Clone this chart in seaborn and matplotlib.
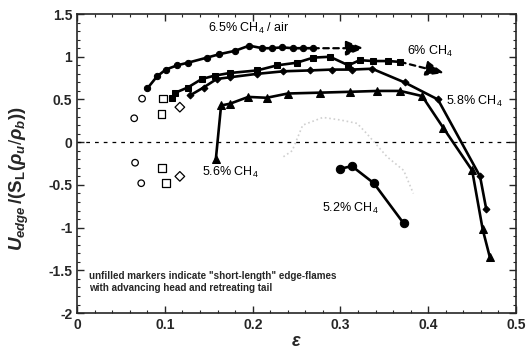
import matplotlib
matplotlib.use("Agg")
import matplotlib.pyplot as plt
import numpy as np
import seaborn as sns

# data
eps_65 = [0.080, 0.091, 0.101, 0.114, 0.126, 0.148, 0.162, 0.180, 0.196, 0.211, 0.222, 0.233, 0.246, 0.257, 0.269]
u_65 = [0.63, 0.77, 0.85, 0.90, 0.93, 0.99, 1.03, 1.07, 1.13, 1.10, 1.10, 1.11, 1.10, 1.10, 1.10]

eps_60 = [0.108, 0.112, 0.126, 0.142, 0.157, 0.174, 0.205, 0.228, 0.250, 0.269, 0.288, 0.309, 0.322, 0.337, 0.354, 0.368]
u_60 = [0.52, 0.58, 0.64, 0.74, 0.78, 0.81, 0.84, 0.90, 0.93, 0.99, 1.00, 0.90, 0.96, 0.95, 0.95, 0.94]

eps_58 = [0.129, 0.144, 0.159, 0.174, 0.205, 0.235, 0.265, 0.290, 0.313, 0.336, 0.373, 0.411, 0.459, 0.466]
u_58 = [0.55, 0.64, 0.74, 0.76, 0.80, 0.83, 0.84, 0.85, 0.85, 0.86, 0.70, 0.50, -0.40, -0.78]

eps_56 = [0.158, 0.164, 0.174, 0.195, 0.216, 0.240, 0.277, 0.311, 0.342, 0.368, 0.393, 0.417, 0.450, 0.462, 0.470]
u_56 = [-0.20, 0.43, 0.45, 0.53, 0.52, 0.57, 0.58, 0.59, 0.60, 0.60, 0.54, 0.17, -0.33, -1.02, -1.34]

eps_52 = [0.300, 0.313, 0.338, 0.372]
u_52 = [-0.31, -0.28, -0.48, -0.95]

# unfilled "short-length" edge-flame points
open_circ_x = [0.074, 0.065, 0.066, 0.073]
open_circ_y = [0.51, 0.28, -0.24, -0.48]
open_sq_x = [0.098, 0.096, 0.097, 0.101]
open_sq_y = [0.51, 0.33, -0.30, -0.48]
open_dia_x = [0.117, 0.117]
open_dia_y = [0.41, -0.40]

# faint grey dotted trace
grey_x = [0.235, 0.245, 0.257, 0.280, 0.300, 0.319, 0.330, 0.353, 0.372, 0.383]
grey_y = [-0.17, -0.10, 0.20, 0.29, 0.26, 0.22, 0.10, -0.17, -0.33, -0.60]

sns.set_style("ticks")
plt.rcParams["font.family"] = ["Liberation Sans", "DejaVu Sans"]
plt.rcParams["mathtext.fontset"] = "custom"
plt.rcParams["mathtext.rm"] = "Liberation Sans"
plt.rcParams["mathtext.it"] = "Liberation Sans:italic:bold"
plt.rcParams["mathtext.bf"] = "Liberation Sans:bold"

fig = plt.figure(figsize=(5.32, 3.51), dpi=100)
ax = fig.add_axes([0.145, 0.108, 0.825, 0.852])

ax.axhline(0, color="k", linestyle=(0, (3, 4)), linewidth=0.9)

sns.lineplot(x=grey_x, y=grey_y, ax=ax, color="#d0d0d0", linestyle=":", linewidth=1.2,
             sort=False, estimator=None)

line_kw = dict(ax=ax, color="k", linewidth=1.9, sort=False, estimator=None,
               markeredgecolor="k")
sns.lineplot(x=eps_65, y=u_65, marker="o", markersize=4.5, **line_kw)
sns.lineplot(x=eps_60, y=u_60, marker="s", markersize=4.8, **line_kw)
sns.lineplot(x=eps_58, y=u_58, marker="D", markersize=3.5, **line_kw)
sns.lineplot(x=eps_56, y=u_56, marker="^", markersize=5.5, **line_kw)
sns.lineplot(x=eps_52, y=u_52, marker="o", markersize=6, **line_kw)

sc_kw = dict(ax=ax, facecolor="none", edgecolor="k", linewidth=0.9, legend=False)
sns.scatterplot(x=open_circ_x, y=open_circ_y, marker="o", s=22, **sc_kw)
sns.scatterplot(x=open_sq_x, y=open_sq_y, marker="s", s=30, **sc_kw)
sns.scatterplot(x=open_dia_x, y=open_dia_y, marker="D", s=24, **sc_kw)

# dashed continuation arrows
arrow_kw = dict(arrowstyle="-|>,head_length=1.1,head_width=0.45", color="k",
                linestyle=(0, (2.5, 2)), linewidth=1.6, shrinkA=0, shrinkB=0)
ax.annotate("", xy=(0.327, 1.10), xytext=(eps_65[-1], u_65[-1]), arrowprops=arrow_kw)
ax.annotate("", xy=(0.418, 0.81), xytext=(eps_60[-1], u_60[-1]), arrowprops=arrow_kw)

txt = dict(fontsize=9, color="k")
ax.text(0.149, 1.33, "6.5% CH$_4$ / air", va="center", **txt)
ax.text(0.376, 1.06, "6% CH$_4$", va="center", **txt)
ax.text(0.420, 0.48, "5.8% CH$_4$", va="center", **txt)
ax.text(0.142, -0.35, "5.6% CH$_4$", va="center", **txt)
ax.text(0.279, -0.78, "5.2% CH$_4$", va="center", **txt)
ax.text(0.013, -1.64,
        "unfilled markers indicate \"short-length\" edge-flames\nwith advancing head and retreating tail",
        fontsize=7.1, fontweight="bold", va="center", linespacing=1.25)

ax.set_xlim(0, 0.5)
ax.set_ylim(-2, 1.5)
ax.set_xticks([0, 0.1, 0.2, 0.3, 0.4, 0.5])
ax.set_xticklabels(["0", "0.1", "0.2", "0.3", "0.4", "0.5"])
ax.set_yticks([-2, -1.5, -1, -0.5, 0, 0.5, 1, 1.5])
ax.set_yticklabels(["-2", "-1.5", "-1", "-0.5", "0", "0.5", "1", "1.5"])
ax.set_xticks(np.arange(0, 0.501, 0.02), minor=True)
ax.set_yticks(np.arange(-2, 1.501, 0.1), minor=True)
ax.tick_params(which="both", direction="in", top=True, right=True, labelsize=10)
ax.tick_params(which="major", length=5, width=1)
ax.tick_params(which="minor", length=2.5, width=0.8)
for lbl in ax.get_xticklabels() + ax.get_yticklabels():
    lbl.set_fontweight("bold")
for sp in ax.spines.values():
    sp.set_linewidth(1.2)

ax.set_xlabel(r"$\varepsilon$", fontsize=13, labelpad=1)
ax.set_ylabel(r"$U_{edge}\,\mathbf{/(S_L(}\rho_u/\rho_b\mathbf{))}$", fontsize=13.5)
ax.yaxis.set_label_coords(-0.105, 0.45)

fig.savefig("out.png", dpi=100)
